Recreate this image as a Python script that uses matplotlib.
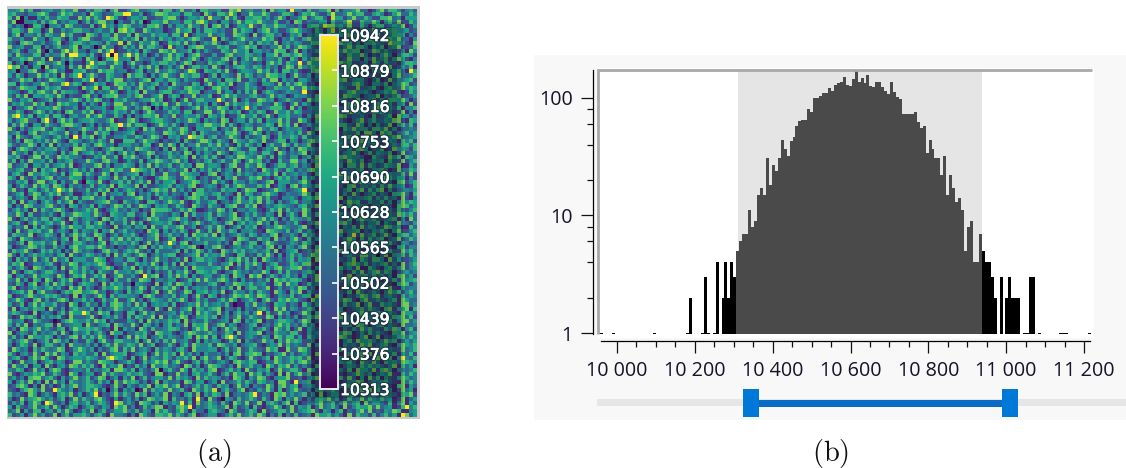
#!/usr/bin/env python3
"""Карта значений с цветовой шкалой (a) и гистограмма с ползунком диапазона (b)."""

import matplotlib
matplotlib.use("Agg")
import matplotlib.patheffects as pe
import matplotlib.pyplot as plt
import numpy as np
from matplotlib.patches import Rectangle

W, H = 1126, 468

# Шкала карты
CBAR_LOW = 10313
CBAR_HIGH = 10942
CBAR_TICKS = [10313, 10376, 10439, 10502, 10565, 10628, 10690, 10753, 10816, 10879, 10942]

# Карта: уровни 0-9 набраны вручную по виду картинки (оценка, не поячеечное чтение)
HEAT_ROWS = """
4457362244 5336447225 3664157224 6733455266 2473351664 4522768345 3361745529 4426335571 6244573312 5736642453
5633244675 2247563341 7542336659 3351247764 5526633174 2664851337 4475223664 1365742258 3347466225 6412573364
6274411536 3365522747 3642975213 5546223367 7313554628 4427362155 6635247413 3572466318 5524733642 2667341555
3701445263 6724355136 2577346422 6360155473 4426637852 3155247366 5743362241 7624335516 3358226447 5146372264
5243016637 4452763322 6138452576 3342667415 2553744261 6736125548 3264475533 2415663877 4537226314 6623547125
3664275513 7225346644 2453361785 6227534412 3745615266 5342273654 1467352246 7533264158 2664415337 3275644523
2571443626 5338462217 6425527336 1743364552 6628135447 3452276531 7246634125 4613357264 5527416333 7234655142
6335227441 4663152577 3224467353 5716342645 2453576322 8164235743 4375621436 3257446651 6143325574 2466573315
4216763352 3571246643 5542633817 3264475126 5637241354 7312564426 2645371453 5423667314 3756241556 4328654217
7345226614 2463357155 3627441263 5273664318 2441567733 3656224575 6132447362 4765322514 5247366415 3614572236
3562144727 5226847331 4473691225 3516422764 7344615253 2265374461 5534276613 7142353646 2475661337 6353224174
5274336615 3447291553 6214908366 4735125247 3651467322 5226734465 3415572664 6743221356 5326447413 2574136652
2446573361 8225364417 5302667445 1743352267 4623574135 3367251463 7524436216 4153672355 6237441537 3462575214
6135224763 3574652215 2466337514 7331254664 5247613326 4653172543 2315746264 3627554132 4756223417 5263314665
3672415537 2445163728 6533274412 5264736135 2471366452 7314256643 6525341376 2744653213 5136427645 3647225361
4523367214 6734115562 3275663441 2561437346 5324872165 4637213554 3746251663 5212674337 6345722416 4273563155
5264133746 3517246625 7422653317 4663152574 3275466213 6154327365 2437664513 7325145264 3566214437 2641573346
2347561423 7654213365 5132647724 3246715536 6425332174 3516647225 4263771534 1554236746 3672455213 6127344562
6615324475 2337446512 3645127663 5274356241 7433265147 2564713364 3155427263 6742315546 2433675215 5361447623
3247655136 4562233174 5816623745 2473561336 4326754512 6745123364 5213365447 3374652125 6542273346 2156437465
5431263674 3726554213 6243475125 4617332566 2354766134 3725415263 7146532354 4362217546 5236744531 3465721264
4263715546 5374132267 2415667335 3672245714 6513372446 1257463335 6324735412 5443261765 3276541344 7143562235
7325461234 6143357526 4762315463 3245574612 5137236644 4652371352 2764513464 3317462255 6452173346 2536647413
2546337461 3275644152 5316427733 6423156472 3744625351 5217364463 4633275214 7254136655 3146727324 6335245172
6133572445 4762335126 3445216673 2537644153 6412357264 3765142533 5234666317 2513447264 4376512235 7245361446
3364125752 5241673364 7125346452 6314752236 4526613377 2473546125 3651274463 6523341745 2417653336 5634227141
4725361546 2663145337 3574226415 1436657243 7235446316 5361225744 6247315563 3415276645 5762334216 2346175524
5246733164 3157462455 6433571226 7412356643 2534764153 4276135526 3615447362 2753164435 6421357246 3354772165
2637415526 4326775413 5142366247 3665124753 6314225477 5472631354 2346517462 7125346533 4663275141 5237146362
7315246673 2654133475 4263756124 5317462236 3476215544 6135372466 2743651354 4521367263 3164745526 6472513343
3462157244 6533724162 2746513345 6124453276 5375261643 3426674125 7514236345 3627415562 5243361774 1756234635
5174326643 2463517265 7136224453 3652476315 4523176624 6234753152 3475126446 5263347712 7346521263 2514673345
4251763536 3742165423 5364271166 6247553132 3516324775 2643175436 5372246615 4136752324 6423657153 3275416462
6324475152 7153436264 2675341455 3426612737 5162447336 4735216364 2514633752 6347215426 3562174345 7143526636
3157642435 5624317763 4213576624 3765423151 7246135463 5342764226 6135472315 2764536144 4325267513 3612745426
2743516364 4316257245 6352641473 5134762346 3427615254 2753146635 4266317524 3571426453 6245731362 5436127234
5462137726 3275644312 2547336165 7423615236 4356172463 6214537754 3742615325 5136274463 2675443116 4327561653
3615274452 6143562337 5326744125 3261457643 6735124256 2463375147 5624116337 7351462264 3427536125 4516327246
7234615536 2456371243 3672514465 4153726346 2364517735 5413672264 3751246635 6243175523 4516637264 2365471153
4356227164 5713246352 6124475633 2765361424 5347162536 3624517243 4175363265 2436754116 7253346125 5641273365
2563174465 3426157736 4237516234 5614362273 3276544126 7135426354 2456371634 5342167263 3724551246 6135436272
6417325246 7243365514 3165427362 6352114675 4237651342 3615472236 5723146463 4163527354 2547326615 3276455142
3254613772 4615237246 5372144636 2463715255 6134576342 7352164425 4236715553 3574126264 6412357363 5243167246
5136427365 2764153423 6245371654 3716223456 2543671245 4136257633 3647125416 7254361342 5316724435 2637445126
4723165246 3516472336 2364715246 5241367562 7352416634 3264551376 6123475423 4572316544 3246157263 6715234435
2356147624 6472351135 3617244526 7143526352 4325176643 5624317265 2367541243 3475162654 6252731346 2431657316
6245317453 5124736266 7345162233 4673512645 3214676352 2653147426 5736221445 3146572346 2715344562 5363417214
3617254146 4263571532 2456733164 3521664247 5472136335 6134257446 3726415235 6245316774 4137562253 3625147465
5142763346 7324165243 6153247636 2376415452 3642175326 4315672264 7124356543 2563471246 3716254414 4253167635
2463517264 3675214346 4721356342 5413276665 2364751124 3762514435 5213647263 4375126654 6241375523 7154263246
4375162243 5216347655 3742165436 6235174432 5417263346 2643571253 6325417146 3174265637 2563741245 5124376463
7214635366 2653174245 4317625462 3124756335 6745213246 4123576364 2573641426 5436217325 4326157546 3245614173
3562147435 6347215246 2574163362 7361245546 2146357423 5326714635 4735162243 6213475356 3674125244 6153274325
5243716264 3126475536 6453217245 2546173364 4672351246 3751246254 6124367543 3572146642 5143627354 2376451163
4172365634 7245316254 3615472463 4231756152 5364127326 2743651445 3217654362 4625317146 2734561325 4631572246
2654371346 5316247463 2764135254 6312457246 3426175563 7152346426 5243671335 3164527264 6514327346 2473156635
6317542234 3425617246 5173264736 3652447125 7124536344 4563217652 2645173425 7316254446 3247516263 5613472364
3246175563 4715326642 3257146453 6413725246 5267134463 3524176236 6147532235 4265317764 5136247653 2746315423
5123476352 2634157446 6475231324 4267153645 2354671243 6731245346 3426715154 2573164367 4215673336 7342156244
2645731264 6351427534 3126745246 5732416333 4616247525 2175364634 5346271245 6124375523 3762451164 4156327463
7315246453 4256173246 5342617364 2476135356 6123457264 5473216623 2637415146 3524761254 6145327735 2371546264
4163527246 2734615553 3765124426 6315247342 3527146645 4213657362 6175324246 2546173346 5324716426 6417352235
3657124435 6214376245 4576213362 2645374152 6172453336 3245716264 7413562236 5367214445 2146753624 3562417246
5246317642 3517246364 2346751254 7152436463 4326175544 5637124263 2415367346 6724153523 4635271164 2156347245
2731564246 6423175363 5164327445 3672514236 2547316654 6213475342 4375126263 3246517736 5412637246 7365124534
6145237355 4275136572 3647125733 5213467136 3746152355 2364175417 5713642463 4152376525 6327145636 3524167352
4372516517 5136472153 7245316336 2376514435 5123647374 3675241523 2436175646 6521374235 2476135362 5143627456
3264157136 2746351465 4317264523 6543217146 2764513335 6214376546 3452167274 5126347363 7235416153 4362157624
5713246435 6352174725 3126457536 2475163364 7316245452 4253617146 6347125235 3762415546 2154367513 6437215344
2456371573 3214657745 6734125316 3562147137 4237615563 5371264425 2643175316 4715326644 5326174235 3147562463
6123574346 5642317153 2475163554 4316752243 6245137316 5132476575 3764125436 2356174245 6413257636 7245316354
3475216725 2367514463 5126347225 7241365436 3574126352 2463751346 4157326575 6321745153 3476215733 5324617533
5236147364 4623175136 3415267635 2736145452 6123547363 4536271153 7342165524 3164257436 5263471472 2645317734
2714536551 7325146443 6152347533 5463217317 3245716535 6714325143 2563174725 4236517345 7512346364 3167245716
4653217134 3146275556 2375614316 6147352234 5263417464 3725146352 5416237351 2375164463 3642157527 6425317553
3127564153 5462173334 7214536316 2653471725 3476125564 6135247236 4327615242 5136472463 2764315145 4213657362
6345127533 2314675446 3756142225 4261735346 5617243363 2345176153 5713246654 2476135236 6324175443 3516247735
5263714346 6172345517 3245617533 7316524146 2437165572 3672541235 6134257463 4263517745 2345176313 5624317334
2417635735 3256147556 5642317153 4175263346 6523147572 5137462235 2463175361 3715426354 6142537463 3264751462
7135426243 4627315346 2463175513 3546217645 2135764346 4236517245 5713264436 6215347176 3476125263 5321647245
3624175546 5142367263 6375214137 2756134635 4325617572 6147352245 3254176366 2516437245 4763125713 7132456364
5246731346 2763514226 4157326644 3614725263 7345216153 5412637153 2374516375 6523417235 3146275564 2475613535
4136527136 6325174435 2514637346 5372461236 3146275446 2764351345 6213547263 4327156417 6153427572 3562147546
2753416364 3476125753 5142367263 7245316354 2563174445 5136247236 4327561173 3764125146 2643175713 6514327346
6314527317 4725316453 3617245561 2456137364 6173524153 3425167256 7613245725 2354176434 5126437371 4273615362
3562147475 2176345546 5423716531 6137254364 2546371573 4713652137 3246175346 5637124243 4512367316 7326145436
5127346135 6354127735 3276541346 4126357572 5732146263 2453167546 6124375346 3675214153 2546317437 3164527654
2743615517 3145276364 6217354713 2635174463 4317625137 6532417346 3417526572 5243167235 7135426464 5324716351
4365127351 5762134436 2435617753 6153247346 3275164526 7124635173 2546137346 6317524415 3426175537 2675134346
7213546572 3642175135 5127364346 4563217713 2734156346 3146275517 4625317172 5736124436 6213475351 3547216364
3524167735 6315247346 2476135153 7136245537 2645317364 5423176415 3762145572 2314576364 4627315173 6153247534
5146372517 2735164346 4263517375 6524137153 3417625513 5172346364 2653417731 7346125572 3124576135 4563217364
2367514172 4126357346 6542137315 3254716573 5713246364 2645137351 4327516735 6135427346 2476315517 5342167153
3214675372 2964351346 4725136153 5017264537 3462175364 8146325713 2537416135 7324156346 4162537571 6345127351
6342175135 3156472513 5913247364 2746135371 4315627153 6527134346 9243176735 3462517135 5136724346 2574316572
4127356753 5246137364 3674215135 2513764571 6342517317 3175426346 4263175153 7314256573 5126347364 3645127135
2536147513 7324156346 2465317735 3176524153 5432617346 4263175372 3715642571 6124357346 2473561735 5326147153
5163247346 2741365135 6325417572 4126357713 2675314346 5347162351 6213475137 2546137346 3172465573 7345126946
3471526614 5263741253 7146235574 3625417463 2574163315 6431752246 5172346637 2456731541 4613257372 3254761145
6235147352 3714625564 2563174431 4175326657 3642571235 5124637346 3751426142 6234175563 5317264426 2463517735
"""

# Самые яркие и самые тёмные ячейки (строка, столбец)
BRIGHT_ROWS = [1, 11, 12, 11, 13, 16, 17, 18, 14, 11, 15, 20, 44, 91, 85, 99, 27, 28, 31, 22, 44, 39, 31, 24,
               13, 57, 65, 74, 85, 74, 95, 96, 96, 96, 80, 97, 55, 26]
BRIGHT_COLS = [28, 26, 26, 16, 20, 17, 20, 14, 0, 29, 98, 72, 72, 70, 96, 96, 9, 27, 16, 51, 12, 30, 44, 58,
               71, 39, 33, 61, 25, 18, 46, 9, 26, 42, 54, 44, 84, 2]
DARK_ROWS = [2, 3, 3, 4, 9, 10, 13, 14, 13, 15, 42, 67, 58, 33, 76, 88, 50, 24, 93, 95, 72, 60]
DARK_COLS = [3, 3, 26, 9, 21, 9, 14, 8, 4, 2, 18, 30, 47, 62, 11, 37, 76, 35, 24, 52, 55, 90]

# Гистограмма: число отсчётов по 167 равным карманам слева направо
HIST_START = 9949.4
HIST_BIN = 7.6
HIST_COUNTS = [
    1, 1, 0, 0, 0, 1, 0, 0, 0, 0, 0, 0, 0, 0, 0, 0, 0, 0, 0, 1,
    0, 0, 0, 0, 0, 0, 0, 0, 0, 0, 1, 2, 0, 0, 0, 1, 3, 1, 0, 1,
    4, 0, 2, 4, 2, 4, 3, 5, 6, 7, 7, 11, 8, 9, 15, 17, 15, 31, 18, 27,
    24, 31, 44, 37, 32, 43, 46, 58, 63, 65, 65, 80, 76, 99, 100, 104, 110, 110, 120, 113,
    128, 134, 136, 149, 128, 125, 144, 169, 136, 146, 133, 156, 126, 124, 135, 135, 124, 115, 107, 135,
    111, 102, 97, 73, 73, 73, 73, 75, 62, 55, 58, 34, 44, 37, 31, 31, 22, 32, 15, 22,
    17, 13, 14, 11, 5, 8, 9, 4, 4, 7, 5, 4, 4, 3, 2, 0, 3, 0, 2, 3,
    2, 2, 2, 0, 1, 1, 3, 3, 0, 1, 0, 0, 0, 0, 0, 0, 1, 1, 1, 0,
    0, 0, 0, 0, 0, 0, 1,
]

# Выделенный диапазон на гистограмме
BAND_LOW = 10310
BAND_HIGH = 10938

X_TICKS = [10000, 10200, 10400, 10600, 10800, 11000, 11200]
X_MINOR = [10050, 10100, 10150, 10250, 10300, 10350, 10450, 10500, 10550, 10650, 10700,
           10750, 10850, 10900, 10950, 11050, 11100, 11150]
Y_TICKS = [1, 10, 100]
Y_MINOR = [2, 4, 6, 8, 20, 40, 60, 80]


def px_axes(fig, left, top, right, bottom, zorder=1):
    """Оси по пиксельному прямоугольнику картинки."""
    return fig.add_axes([left / W, 1 - bottom / H, (right - left) / W, (bottom - top) / H],
                        zorder=zorder)


def draw_canvas(fig):
    canvas = fig.add_axes([0, 0, 1, 1], zorder=0)
    canvas.set_xlim(0, W)
    canvas.set_ylim(H, 0)
    canvas.axis("off")
    canvas.add_patch(Rectangle((6.5, 5.5), 413, 413.5, fc="#c9c9c9", ec="none"))
    canvas.add_patch(Rectangle((534, 55), W - 534, 365, fc="#f8f8f8", ec="none"))
    canvas.add_patch(Rectangle((598, 68), 496, 270, fc="white", ec="none"))
    # ползунок диапазона
    canvas.add_patch(Rectangle((597, 399), W - 597, 6.5, fc="#e6e6e6", ec="none"))
    canvas.add_patch(Rectangle((751, 399.5), 258, 7, fc="#0a6cc4", ec="none"))
    canvas.add_patch(Rectangle((743, 389), 16, 28, fc="#0078d7", ec="none"))
    canvas.add_patch(Rectangle((1002, 389), 16, 28, fc="#0078d7", ec="none"))
    for x, label in [(214, "(a)"), (831, "(b)")]:
        canvas.text(x, 453, rf"$\mathrm{{{label}}}$", math_fontfamily="cm", fontsize=20.5,
                    ha="center", va="center", color="#111111")


def draw_heatmap(fig):
    rows = [r.replace(" ", "") for r in HEAT_ROWS.strip().splitlines()]
    levels = np.array([[int(c) for c in r[:100].ljust(100, "4")] for r in rows], dtype=float)
    values = CBAR_LOW + levels * (CBAR_HIGH - CBAR_LOW) / 9
    values[BRIGHT_ROWS, BRIGHT_COLS] = CBAR_HIGH
    values[DARK_ROWS, DARK_COLS] = CBAR_LOW

    ax = px_axes(fig, 8.3, 8.7, 416.7, 417)
    ax.imshow(values, cmap="viridis", vmin=CBAR_LOW, vmax=CBAR_HIGH, aspect="auto",
              interpolation="nearest")
    ax.axis("off")

    # затемнённая подложка под шкалой
    shade = px_axes(fig, 0, 0, W, H, zorder=2)
    shade.set_xlim(0, W)
    shade.set_ylim(H, 0)
    shade.axis("off")
    shade.patch.set_alpha(0)
    shade.add_patch(Rectangle((306.5, 22), 96.5, 381, fc="black", alpha=0.15, ec="none"))
    shade.add_patch(Rectangle((312, 27), 85, 371, fc="black", alpha=0.2, ec="none"))

    cax = px_axes(fig, 320, 35, 338, 389, zorder=3)
    gradient = np.linspace(CBAR_HIGH, CBAR_LOW, 256).reshape(-1, 1)
    cax.imshow(gradient, cmap="viridis", vmin=CBAR_LOW, vmax=CBAR_HIGH, aspect="auto",
               extent=[0, 1, CBAR_LOW, CBAR_HIGH])
    cax.set_xticks([])
    cax.yaxis.tick_right()
    cax.set_yticks(CBAR_TICKS)
    cax.tick_params(axis="y", direction="in", length=4, width=1.2, color="white", pad=1.5,
                    labelcolor="white", labelsize=11.2)
    halo = [pe.withStroke(linewidth=2.2, foreground="#1c3a44"),
            pe.Stroke(linewidth=0.5, foreground="white"), pe.Normal()]
    for label in cax.get_yticklabels():
        label.set_path_effects(halo)
        label.set_family("DejaVu Sans")
    for spine in cax.spines.values():
        spine.set_color("#e8e8f0")
        spine.set_linewidth(1.4)


def draw_histogram(fig):
    ax = px_axes(fig, 598, 70, 1092, 334.3)
    ax.patch.set_alpha(0)
    y_min = 0.975
    ax.set_xlim(9951.2, 11220.5)
    ax.set_ylim(y_min, 172)
    ax.set_yscale("log")

    ax.axvspan(BAND_LOW, BAND_HIGH, color="#e5e5e5", lw=0, zorder=1)

    counts = np.array(HIST_COUNTS, dtype=float)
    left = HIST_START + HIST_BIN * np.arange(len(counts))
    centers = left + HIST_BIN / 2
    inside = (centers > BAND_LOW) & (centers < BAND_HIGH)
    keep = counts > 0
    colors = np.where(inside, "#4a4a4a", "black")
    ax.bar(left[keep], counts[keep] - y_min, width=HIST_BIN, bottom=y_min, align="edge",
           color=colors[keep], linewidth=0, zorder=2)

    # серая рамка сверху и слева
    ax.plot([0, 0, 1], [0.003, 1, 1], transform=ax.transAxes, color="#a8a8a8", lw=2.0,
            clip_on=False, zorder=3, solid_capstyle="butt", solid_joinstyle="miter")

    for side in ("top", "right"):
        ax.spines[side].set_visible(False)
    ax.spines["left"].set_position(("outward", 3.6))
    ax.spines["bottom"].set_position(("outward", 4.9))
    ax.spines["left"].set_linewidth(0.9)
    ax.spines["bottom"].set_linewidth(0.9)
    ax.spines["bottom"].set_bounds(9958, 11215)

    ax.set_xticks(X_TICKS)
    ax.set_xticklabels([f"{t // 1000} {t % 1000:03d}" for t in X_TICKS])
    ax.set_xticks(X_MINOR, minor=True)
    ax.set_yticks(Y_TICKS)
    ax.set_yticklabels([str(t) for t in Y_TICKS])
    ax.set_yticks(Y_MINOR, minor=True)
    ax.set_yticklabels([], minor=True)
    ax.tick_params(which="major", length=8.6, width=0.9, labelsize=14.2, pad=6, color="#111111",
                   labelcolor="#14142a")
    ax.tick_params(which="minor", length=4.6, width=0.9, color="#111111")
    for label in ax.get_xticklabels() + ax.get_yticklabels():
        label.set_family("Open Sans")


def main():
    fig = plt.figure(figsize=(W / 100, H / 100), dpi=100, facecolor="white")
    draw_canvas(fig)
    draw_heatmap(fig)
    draw_histogram(fig)
    fig.savefig("out.png", dpi=100)
    plt.close(fig)


if __name__ == "__main__":
    main()
